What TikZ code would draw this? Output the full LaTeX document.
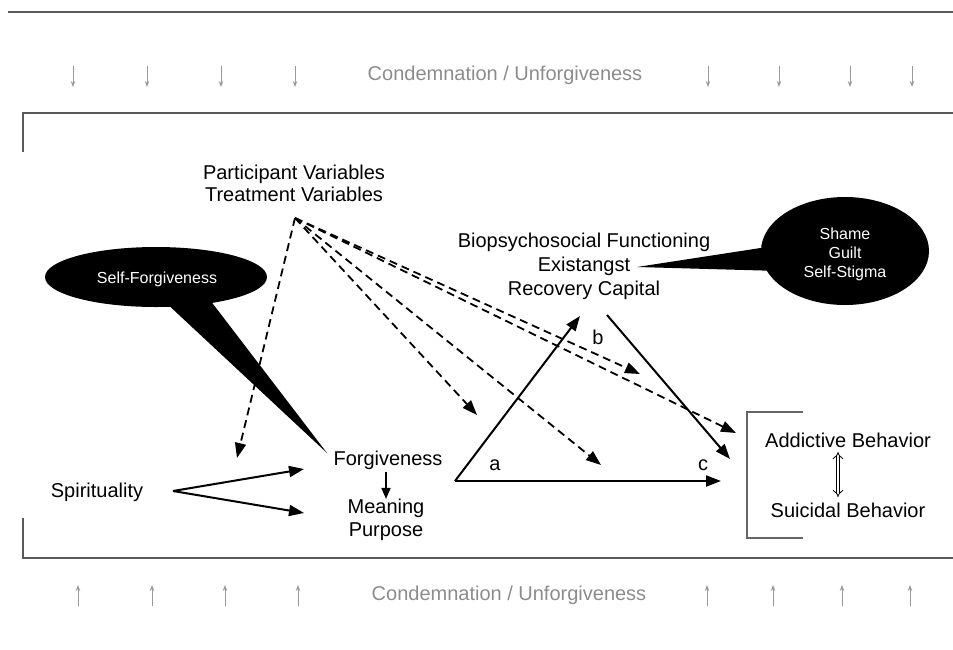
\documentclass[tikz,border=0pt]{standalone}
\usepackage{fontspec}
\setmainfont{Liberation Sans}
\usetikzlibrary{arrows.meta,shapes.geometric}
\begin{document}
\begin{tikzpicture}[x=1pt,y=-1pt,
  lbl/.style={font=\fontsize{20}{22}\selectfont, inner sep=0pt, align=center},
  graylbl/.style={lbl, text=black!45},
  bubtxt/.style={font=\fontsize{16}{19}\selectfont, text=white, align=center, inner sep=0pt},
  bubble/.style={ellipse, fill=black, inner sep=0pt},
  solidarr/.style={line width=2pt, -{Triangle[length=15pt,width=11pt]}},
  dasharr/.style={line width=1.8pt, dash pattern=on 8pt off 5pt, -{Triangle[length=15pt,width=11pt]}},
  grayarr/.style={draw=black!40, line width=0.9pt, -{Stealth[length=6pt,width=4.5pt]}},
  frameline/.style={draw=black!65, line width=1.6pt},
  bracketline/.style={draw=black!60, line width=1.3pt},
]
\useasboundingbox (0,0) rectangle (953,649);
% frame
\draw[frameline] (8,12) -- (953,12);
\draw[frameline] (23,152) -- (23,113) -- (953,113);
\draw[frameline] (23,518) -- (23,558) -- (953,558);
% top gray row
\node[graylbl] (condtop) at (505,75) {Condemnation / Unforgiveness};
\foreach \x in {73,147,221,295,708,779,850,912}
  \draw[grayarr] (\x,66) -- (\x,87);
% bottom gray row
\node[graylbl] (condbot) at (509,595) {Condemnation / Unforgiveness};
\foreach \x in {78,152,225,298,707,773,842,910}
  \draw[grayarr] (\x,606) -- (\x,585);
% bubbles
\node[bubble, minimum width=222pt, minimum height=60pt] (sf) at (156,277) {};
\node[bubtxt] (sftxt) at (157,279) {Self-Forgiveness};
\node[bubble, minimum width=168pt, minimum height=108pt] (sh) at (845,251) {};
\node[bubtxt] (shtxt) at (845,254) {Shame\\Guilt\\Self-Stigma};
% text nodes
\node[lbl] (pv) at (294,183) {Participant Variables\\Treatment Variables};
\node[lbl, font=\fontsize{20}{24}\selectfont] (bio) at (584,266) {Biopsychosocial Functioning\\Existangst\\Recovery Capital};
\node[lbl] (forg) at (388,460) {Forgiveness};
\node[lbl, font=\fontsize{20}{23}\selectfont] (mean) at (386,520) {Meaning\\Purpose};
\node[lbl] (spir) at (97,492) {Spirituality};
\node[lbl] (add) at (848,440) {Addictive Behavior};
\node[lbl] (sui) at (848,510) {Suicidal Behavior};
% callout tails
\fill (163,300) -- (210,300) -- (327,453) -- cycle;
\fill (637,267) -- (780,245) -- (780,271) -- cycle;
% coordinates
\coordinate (src) at (295,218);
\coordinate (tA) at (455,481);
\coordinate (tB) at (580,316);
\coordinate (bS) at (607,315);
\coordinate (bE) at (730,459);
\coordinate (tC) at (721,481);
\coordinate (sp) at (173,491);
% dashed arrows
\draw[dasharr] (src) -- (237,458);
\draw[dasharr] (src) -- (477,415);
\draw[dasharr] (src) -- (601,465);
\draw[dasharr] (src) -- (640,374);
\draw[dasharr] (src) -- (736,433);
% solid arrows
\draw[solidarr] (tA) -- (tB);
\draw[solidarr] (tA) -- (tC);
\draw[solidarr] (bS) -- (bE);
\draw[solidarr] (sp) -- (304,469);
\draw[solidarr] (sp) -- (304,513);
\draw[solidarr, line width=1.6pt, -{Triangle[length=11pt,width=9pt]}] (forg.south -| mean.north) ++(0,2) -- (mean.north);
% labels
\node[lbl] (la) at (495,465) {a};
\node[lbl] (lb) at (598,337) {b};
\node[lbl] (lc) at (703,465) {c};
% bracket
\draw[bracketline] (803,412) -- (747,412) -- (747,538) -- (803,538);
% double arrow
\draw[double, double distance=2.8pt, line width=0.8pt, {Implies}-{Implies}] (838,452) -- (838,497);
\end{tikzpicture}
\end{document}
